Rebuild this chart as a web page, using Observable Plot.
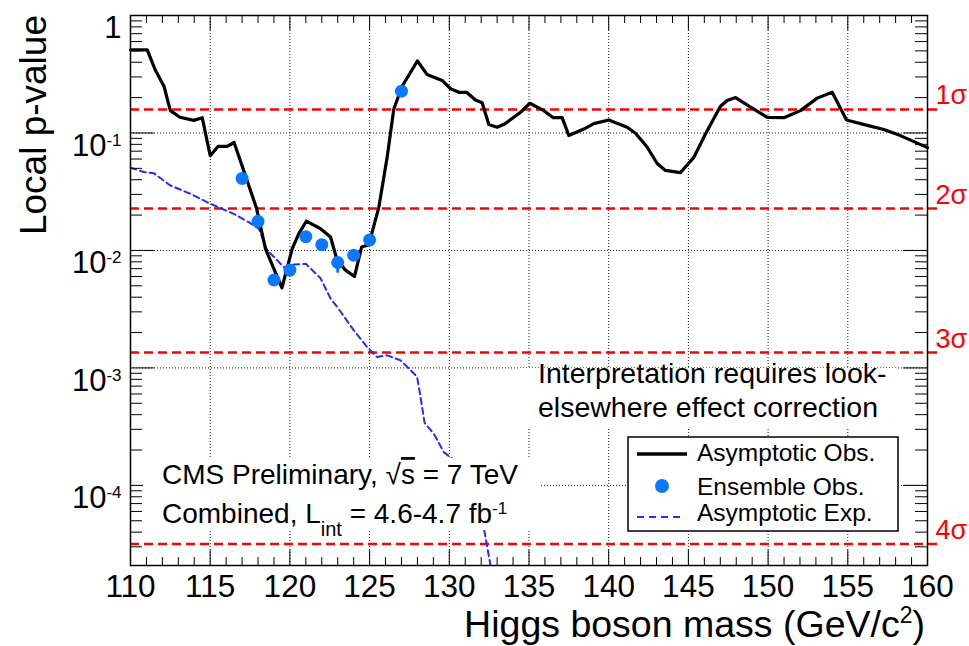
<!DOCTYPE html>
<html><head><meta charset="utf-8">
<script src="https://cdn.jsdelivr.net/npm/d3@7"></script>
<script src="https://cdn.jsdelivr.net/npm/@observablehq/plot@0.6"></script>
<style>
html,body{margin:0;padding:0;background:#fff;}
#chart{position:relative;width:969px;height:646px;}
</style></head><body><div id="chart"></div>
<script>
// ---- data ----
const obsMass = [110,111.05,111.57,112.1,112.5,113.1,113.97,114.5,115.0,115.5,116.06,116.5,117.1,117.9,118.47,119.5,120.14,120.56,121.04,121.92,122.55,122.97,123.49,124.05,124.5,124.95,125.58,126.1,126.52,127.04,128.0,128.6,129.55,130.08,130.6,131.08,131.64,132.06,132.48,133.0,133.5,134.47,135.05,135.93,136.52,137.08,137.5,138.44,139.07,140.0,141.16,141.68,142.41,143.04,143.56,144.5,145.34,146.07,147.0,147.43,147.96,148.9,149.95,150.99,152.03,153.08,154.02,154.92,156.22,157.26,158.3,160];
const obsP = [0.51,0.51,0.34,0.25,0.155,0.136,0.128,0.135,0.064,0.077,0.077,0.083,0.048,0.023,0.0103,0.0048,0.0103,0.0139,0.0178,0.0153,0.013,0.0082,0.0068,0.006,0.0107,0.0112,0.0233,0.062,0.16,0.25,0.41,0.315,0.28,0.238,0.222,0.222,0.191,0.181,0.118,0.112,0.12,0.150,0.179,0.155,0.135,0.135,0.095,0.108,0.12,0.129,0.112,0.0995,0.076,0.055,0.048,0.046,0.062,0.098,0.168,0.189,0.20,0.166,0.136,0.135,0.155,0.198,0.222,0.129,0.116,0.107,0.095,0.075];
const ensMass = [117,118,119,120,121,122,123,124,125,127];
const ensP = [0.041,0.0177,0.0056,0.0068,0.0131,0.0112,0.0079,0.0091,0.0123,0.227];
const ensErrMass = [123];
const ensErrLo = [0.0064];
const ensErrHi = [0.0088];
const expMass = [110,110.84,111.46,112.5,113.76,115.0,116.48,117.42,118.05,118.57,119.62,120.25,121.0,121.92,122.55,122.97,124.0,124.85,125.47,126.1,126.94,127.36,127.98,128.2,128.45,129.03,129.65,130.18,130.9,132.16,132.58];
const expP = [0.0506,0.0465,0.0455,0.0357,0.0304,0.025,0.0205,0.0174,0.0153,0.0101,0.0072,0.0076,0.0077,0.0058,0.0039,0.0033,0.0021,0.0015,0.00124,0.00128,0.00116,0.00102,0.00084,0.00056,0.00034,0.000275,0.000192,0.000169,0.000118,0.000044,0.000021];
const sigmaLabels = ["1σ","2σ","3σ","4σ"];
const sigmaP = [0.158655,0.02275,0.0013499,0.00003167];
const xTicks = [110,115,120,125,130,135,140,145,150,155,160];
const xGrid = [115,120,125,130,135,140,145,150,155];
const yTicks = [1,0.1,0.01,0.001,0.0001];
const yTickBase = ["1","10","10","10","10"];
const yTickExp = ["","-1","-2","-3","-4"];
const yGrid = [0.1,0.01,0.001,0.0001];
const yDomain = [2.08e-5, 1];
const xDomain = [110, 160];

// ---- tables ----
const observed = obsMass.map((m,i)=>({m, p: obsP[i]}));
const ensemble = ensMass.map((m,i)=>({m, p: ensP[i]}));
const ensErr = ensErrMass.map((m,i)=>({m, lo: ensErrLo[i], hi: ensErrHi[i]}));
const expected = expMass.map((m,i)=>({m, p: expP[i]}));
const sigmas = sigmaP.map((p,i)=>({p, label: sigmaLabels[i]}));
const xMinor = d3.range(xDomain[0], xDomain[1]+0.5, 1).filter(d => d % 5 !== 0);
const yMinor = [];
for (let e = -5; e <= -1; e++) for (let k = 2; k <= 9; k++) {
  const v = k * Math.pow(10, e);
  if (v > yDomain[0] && v < yDomain[1]) yMinor.push(v);
}

const W = 969, H = 646, mL = 130, mR = 42, mT = 15, mB = 81;
const innerW = W - mL - mR, innerH = H - mT - mB;
const FONT = '"Liberation Sans", Arial, Helvetica, sans-serif';
const RED = "#ff0000", BLUE_DOT = "#0a78ff", BLUE_LINE = "#2a2aff";
const grid = {stroke: "#000", strokeWidth: 1, strokeDasharray: "1,2", strokeOpacity: 0.9};

const plot = Plot.plot({
  width: W, height: H,
  marginLeft: mL, marginRight: mR, marginTop: mT, marginBottom: mB,
  style: {fontFamily: FONT, fontSize: "30px", color: "#000", background: "#fff", overflow: "visible"},
  x: {domain: xDomain},
  y: {type: "log", domain: yDomain},
  marks: [
    Plot.ruleX(xGrid, grid),
    Plot.ruleY(yGrid, grid),
    Plot.ruleY(sigmas, {y: "p", stroke: RED, strokeWidth: 2.5, strokeDasharray: "9,5", insetRight: -13}),
    Plot.text(sigmas, {y: "p", text: "label", frameAnchor: "right", dx: 8, dy: -5, textAnchor: "start", lineAnchor: "bottom", fill: RED, fontSize: 27}),
    Plot.line(expected, {x: "m", y: "p", stroke: BLUE_LINE, strokeWidth: 2, strokeDasharray: "6,4"}),
    Plot.line(observed, {x: "m", y: "p", stroke: "#000", strokeWidth: 3.2}),
    Plot.ruleX(ensErr, {x: "m", y1: "lo", y2: "hi", stroke: BLUE_DOT, strokeWidth: 3}),
    Plot.dot(ensemble, {x: "m", y: "p", r: 6.5, fill: BLUE_DOT}),
    // inside ticks, all four sides
    Plot.tickX(xTicks, {x: d => d, insetTop: innerH - 15, stroke: "#000"}),
    Plot.tickX(xTicks, {x: d => d, insetBottom: innerH - 15, stroke: "#000"}),
    Plot.tickX(xMinor, {x: d => d, insetTop: innerH - 8, stroke: "#000"}),
    Plot.tickX(xMinor, {x: d => d, insetBottom: innerH - 8, stroke: "#000"}),
    Plot.tickY(yTicks, {y: d => d, insetRight: innerW - 24, stroke: "#000"}),
    Plot.tickY(yTicks, {y: d => d, insetLeft: innerW - 24, stroke: "#000"}),
    Plot.tickY(yMinor, {y: d => d, insetRight: innerW - 12, stroke: "#000"}),
    Plot.tickY(yMinor, {y: d => d, insetLeft: innerW - 12, stroke: "#000"}),
    Plot.frame({stroke: "#000", strokeWidth: 1.5}),
    Plot.axisX({ticks: xTicks, tickSize: 0, tickPadding: 9, tickFormat: d => String(d), label: null, fontSize: 31.5}),
    Plot.axisY({ticks: yTicks, tickSize: 0, tickPadding: 9, tickFormat: d => String(yTicks.indexOf(d)), label: null, fontSize: 31})
  ]
});
document.getElementById("chart").appendChild(plot);

const svg = d3.select(plot);
// superscripts on the y tick labels
svg.selectAll('g[aria-label="y-axis tick label"] text').each(function() {
  const i = +this.textContent;
  const t = d3.select(this);
  t.text(null).attr("dy", "0.42em");
  t.append("tspan").text(yTickBase[i]);
  if (yTickExp[i]) t.append("tspan").attr("dy", -10).attr("font-size", 17).text(yTickExp[i]);
});

// annotation boxes (white filled, like the ROOT text panes)
const ann = svg.append("g").attr("font-family", FONT).attr("fill", "#000").attr("text-anchor", "start");
ann.append("rect").attr("x", 518).attr("y", 368).attr("width", 380).attr("height", 59).attr("fill", "#fff");
ann.append("rect").attr("x", 143).attr("y", 458).attr("width", 397).attr("height", 72).attr("fill", "#fff");
ann.append("rect").attr("x", 628).attr("y", 437).attr("width", 270).attr("height", 94).attr("fill", "#fff").attr("stroke", "#000").attr("stroke-width", 1.5);

ann.append("text").attr("x", 538).attr("y", 383).attr("font-size", 28.5).text("Interpretation requires look-");
ann.append("text").attr("x", 538).attr("y", 417).attr("font-size", 28.5).text("elsewhere effect correction");

const t1 = ann.append("text").attr("x", 162).attr("y", 484).attr("font-size", 28);
t1.append("tspan").text("CMS Preliminary, √");
t1.append("tspan").style("text-decoration", "overline").text("s");
t1.append("tspan").text(" = 7 TeV");
const t2 = ann.append("text").attr("x", 162).attr("y", 523).attr("font-size", 28);
t2.append("tspan").text("Combined, L");
t2.append("tspan").attr("dy", 13).attr("font-size", 20).text("int");
t2.append("tspan").attr("dy", -13).text(" = 4.6-4.7 fb");
t2.append("tspan").attr("dy", -9).attr("font-size", 17).text("-1");

// legend
ann.append("line").attr("x1", 637).attr("x2", 687).attr("y1", 454).attr("y2", 454).attr("stroke", "#000").attr("stroke-width", 3.5);
ann.append("circle").attr("cx", 662).attr("cy", 486).attr("r", 7).attr("fill", BLUE_DOT);
ann.append("line").attr("x1", 637).attr("x2", 682).attr("y1", 517).attr("y2", 517).attr("stroke", BLUE_LINE).attr("stroke-width", 2).attr("stroke-dasharray", "7,5");
ann.append("text").attr("x", 697).attr("y", 461).attr("font-size", 24.5).text("Asymptotic Obs.");
ann.append("text").attr("x", 697).attr("y", 495).attr("font-size", 24.5).text("Ensemble Obs.");
ann.append("text").attr("x", 697).attr("y", 521).attr("font-size", 24.5).text("Asymptotic Exp.");

// axis titles
const xt = ann.append("text").attr("x", 925).attr("y", 637).attr("font-size", 37.5).attr("text-anchor", "end");
xt.append("tspan").text("Higgs boson mass (GeV/c");
xt.append("tspan").attr("dy", -14).attr("font-size", 23).text("2");
xt.append("tspan").attr("dy", 14).text(")");
ann.append("text").attr("transform", "translate(46,15) rotate(-90)").attr("font-size", 37).attr("text-anchor", "end").text("Local p-value");
</script></body></html>
